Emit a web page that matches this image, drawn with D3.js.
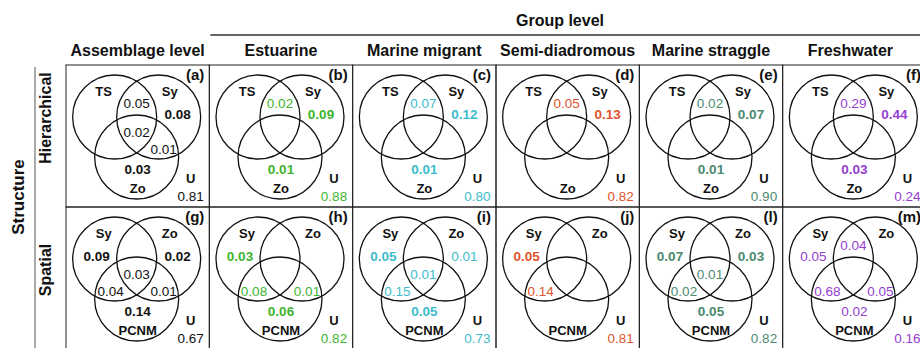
<!DOCTYPE html>
<html>
<head>
<meta charset="utf-8">
<script src="https://cdn.jsdelivr.net/npm/d3@7/dist/d3.min.js"></script>
<style>
  html, body { margin: 0; padding: 0; background: #fff; }
  svg { display: block; font-family: "Liberation Sans", Arial, Helvetica, sans-serif; }
</style>
</head>
<body>
<svg id="chart" width="920" height="348"></svg>
<script>
// Variation partitioning of fish assemblages: fractions explained by each
// component (and their overlaps) for the whole assemblage and each guild.
const columns = ["Assemblage level", "Estuarine", "Marine migrant", "Semi-diadromous", "Marine straggle", "Freshwater"];
const rows = ["Hierarchical", "Spatial"];
const panelLetters = [
  ["(a)", "(b)", "(c)", "(d)", "(e)", "(f)"],
  ["(g)", "(h)", "(i)", "(j)", "(l)", "(m)"]
];
// Three explanatory sets per structure: first, second, third circle
const setNames = [
  ["TS", "Sy", "Zo"],
  ["Sy", "Zo", "PCNM"]
];
const guildColours = ["#111111", "#3fb52e", "#3dbccb", "#e2532b", "#4c8a6f", "#9540d2"];

// Region keys: A, B, C = unique fractions; AB, AC, BC, ABC = shared; U = unexplained
const hierarchicalValues = [
  { AB: 0.05, B: 0.08, ABC: 0.02, BC: 0.01, C: 0.03, U: 0.81 },
  { AB: 0.02, B: 0.09, C: 0.01, U: 0.88 },
  { AB: 0.07, B: 0.12, C: 0.01, U: 0.80 },
  { AB: 0.05, B: 0.13, U: 0.82 },
  { AB: 0.02, B: 0.07, C: 0.01, U: 0.90 },
  { AB: 0.29, B: 0.44, C: 0.03, U: 0.24 }
];
const spatialValues = [
  { A: 0.09, B: 0.02, ABC: 0.03, AC: 0.04, BC: 0.01, C: 0.14, U: 0.67 },
  { A: 0.03, AC: 0.08, BC: 0.01, C: 0.06, U: 0.82 },
  { A: 0.05, B: 0.01, ABC: 0.01, AC: 0.15, C: 0.05, U: 0.73 },
  { A: 0.05, AC: 0.14, U: 0.81 },
  { A: 0.07, B: 0.03, ABC: 0.01, AC: 0.02, C: 0.05, U: 0.82 },
  { A: 0.05, AB: 0.04, AC: 0.68, BC: 0.05, C: 0.02, U: 0.16 }
];
// Fractions reported as significant (set in bold)
const hierarchicalSignificant = [
  ["B", "C"], ["B", "C"], ["B", "C"], ["B"], ["B", "C"], ["B", "C"]
];
const spatialSignificant = [
  ["A", "B", "C"], ["A", "C"], ["A", "C"], ["A"], ["A", "B", "C"], []
];

const values = [hierarchicalValues, spatialValues];
const significant = [hierarchicalSignificant, spatialSignificant];

const svg = d3.select("#chart");

const colX = d3.scaleBand().domain(columns).range([66, 926]);
const rowY = d3.scaleBand().domain(rows).range([65, 349]);

// Venn layout, in pixels relative to the panel centre
const R = 42;
const circleOffsets = [[-23, -19], [21, -19], [-1, 21]];
const regionAnchor = {
  A: [-41, -22], B: [40, -22], AB: [-1, -33], ABC: [-1, -4],
  AC: [-27, 13], BC: [26, 13], C: [0, 33]
};
const setLabelAnchor = [[-34, -45], [32, -45], [0, 52]];

const fmt = d3.format(".2f");
const ink = "#111";
const numSize = 13.5;

// Header: group title and its rule
const groupCols = columns.slice(1);
svg.append("line")
  .attr("x1", colX(groupCols[0]) + 1).attr("x2", 920)
  .attr("y1", 35).attr("y2", 35)
  .attr("stroke", "#333").attr("stroke-width", 1.4);
svg.append("text")
  .attr("x", 560).attr("y", 20)
  .attr("text-anchor", "middle").attr("dominant-baseline", "central")
  .attr("font-size", 16).attr("font-weight", "bold").attr("fill", ink)
  .text("Group level");

svg.selectAll("text.colhead")
  .data(columns)
  .join("text")
  .attr("class", "colhead")
  .attr("x", d => colX(d) + colX.bandwidth() / 2 - (d === "Freshwater" ? 4 : 0))
  .attr("y", 50)
  .attr("text-anchor", "middle").attr("dominant-baseline", "central")
  .attr("font-size", 16).attr("font-weight", "bold").attr("fill", ink)
  .text(d => d);

// Left side: structure title, its rule and row titles
svg.append("line")
  .attr("x1", 35).attr("x2", 35)
  .attr("y1", 67).attr("y2", 348)
  .attr("stroke", "#555").attr("stroke-width", 1);
svg.append("text")
  .attr("transform", "translate(18,197) rotate(-90)")
  .attr("text-anchor", "middle").attr("dominant-baseline", "central")
  .attr("font-size", 17).attr("font-weight", "bold").attr("fill", ink)
  .text("Structure");
const rowLabelY = { Hierarchical: 118, Spatial: 270 };
svg.selectAll("text.rowhead")
  .data(rows)
  .join("text")
  .attr("class", "rowhead")
  .attr("transform", d => `translate(45,${rowLabelY[d]}) rotate(-90)`)
  .attr("text-anchor", "middle").attr("dominant-baseline", "central")
  .attr("font-size", 16).attr("font-weight", "bold").attr("fill", ink)
  .text(d => d);

// Panels
const panels = [];
rows.forEach((r, ri) => {
  columns.forEach((c, ci) => {
    panels.push({ ri, ci, row: r, col: c });
  });
});

const g = svg.selectAll("g.panel")
  .data(panels)
  .join("g")
  .attr("class", "panel")
  .attr("transform", d => `translate(${colX(d.col) + colX.bandwidth() / 2},${rowY(d.row) + rowY.bandwidth() / 2})`);

g.append("rect")
  .attr("x", -colX.bandwidth() / 2).attr("y", -rowY.bandwidth() / 2)
  .attr("width", colX.bandwidth()).attr("height", rowY.bandwidth())
  .attr("fill", "none").attr("stroke", "#222").attr("stroke-width", 1);

g.selectAll("circle")
  .data(() => circleOffsets)
  .join("circle")
  .attr("cx", d => d[0]).attr("cy", d => d[1]).attr("r", R)
  .attr("fill", "none").attr("stroke", "#111").attr("stroke-width", 1.3);

// Panel letter
g.append("text")
  .attr("x", colX.bandwidth() / 2 - 5)
  .attr("y", -rowY.bandwidth() / 2 + 9)
  .attr("text-anchor", "end").attr("dominant-baseline", "central")
  .attr("font-size", 15).attr("font-weight", "bold").attr("fill", ink)
  .text(d => panelLetters[d.ri][d.ci]);

// Set names
g.selectAll("text.setname")
  .data(d => setNames[d.ri].map((n, i) => ({ n, i })))
  .join("text")
  .attr("class", "setname")
  .attr("x", d => setLabelAnchor[d.i][0]).attr("y", d => setLabelAnchor[d.i][1])
  .attr("text-anchor", "middle").attr("dominant-baseline", "central")
  .attr("font-size", 13).attr("font-weight", "bold").attr("fill", ink)
  .text(d => d.n);

// Fractions inside the diagram
g.selectAll("text.frac")
  .data(d => Object.entries(values[d.ri][d.ci])
    .filter(([k]) => k !== "U")
    .map(([k, v]) => ({ k, v, colour: guildColours[d.ci], bold: significant[d.ri][d.ci].includes(k) })))
  .join("text")
  .attr("class", "frac")
  .attr("x", d => regionAnchor[d.k][0]).attr("y", d => regionAnchor[d.k][1])
  .attr("text-anchor", "middle").attr("dominant-baseline", "central")
  .attr("font-size", numSize).attr("font-weight", d => d.bold ? "bold" : "normal")
  .attr("fill", d => d.colour)
  .text(d => fmt(d.v));

// Unexplained fraction
g.append("text")
  .attr("x", 53).attr("y", 42)
  .attr("text-anchor", "middle").attr("dominant-baseline", "central")
  .attr("font-size", 13).attr("font-weight", "bold").attr("fill", ink)
  .text("U");
g.append("text")
  .attr("x", 53).attr("y", 60)
  .attr("text-anchor", "middle").attr("dominant-baseline", "central")
  .attr("font-size", numSize).attr("fill", d => guildColours[d.ci])
  .text(d => fmt(values[d.ri][d.ci].U));
</script>
</body>
</html>
